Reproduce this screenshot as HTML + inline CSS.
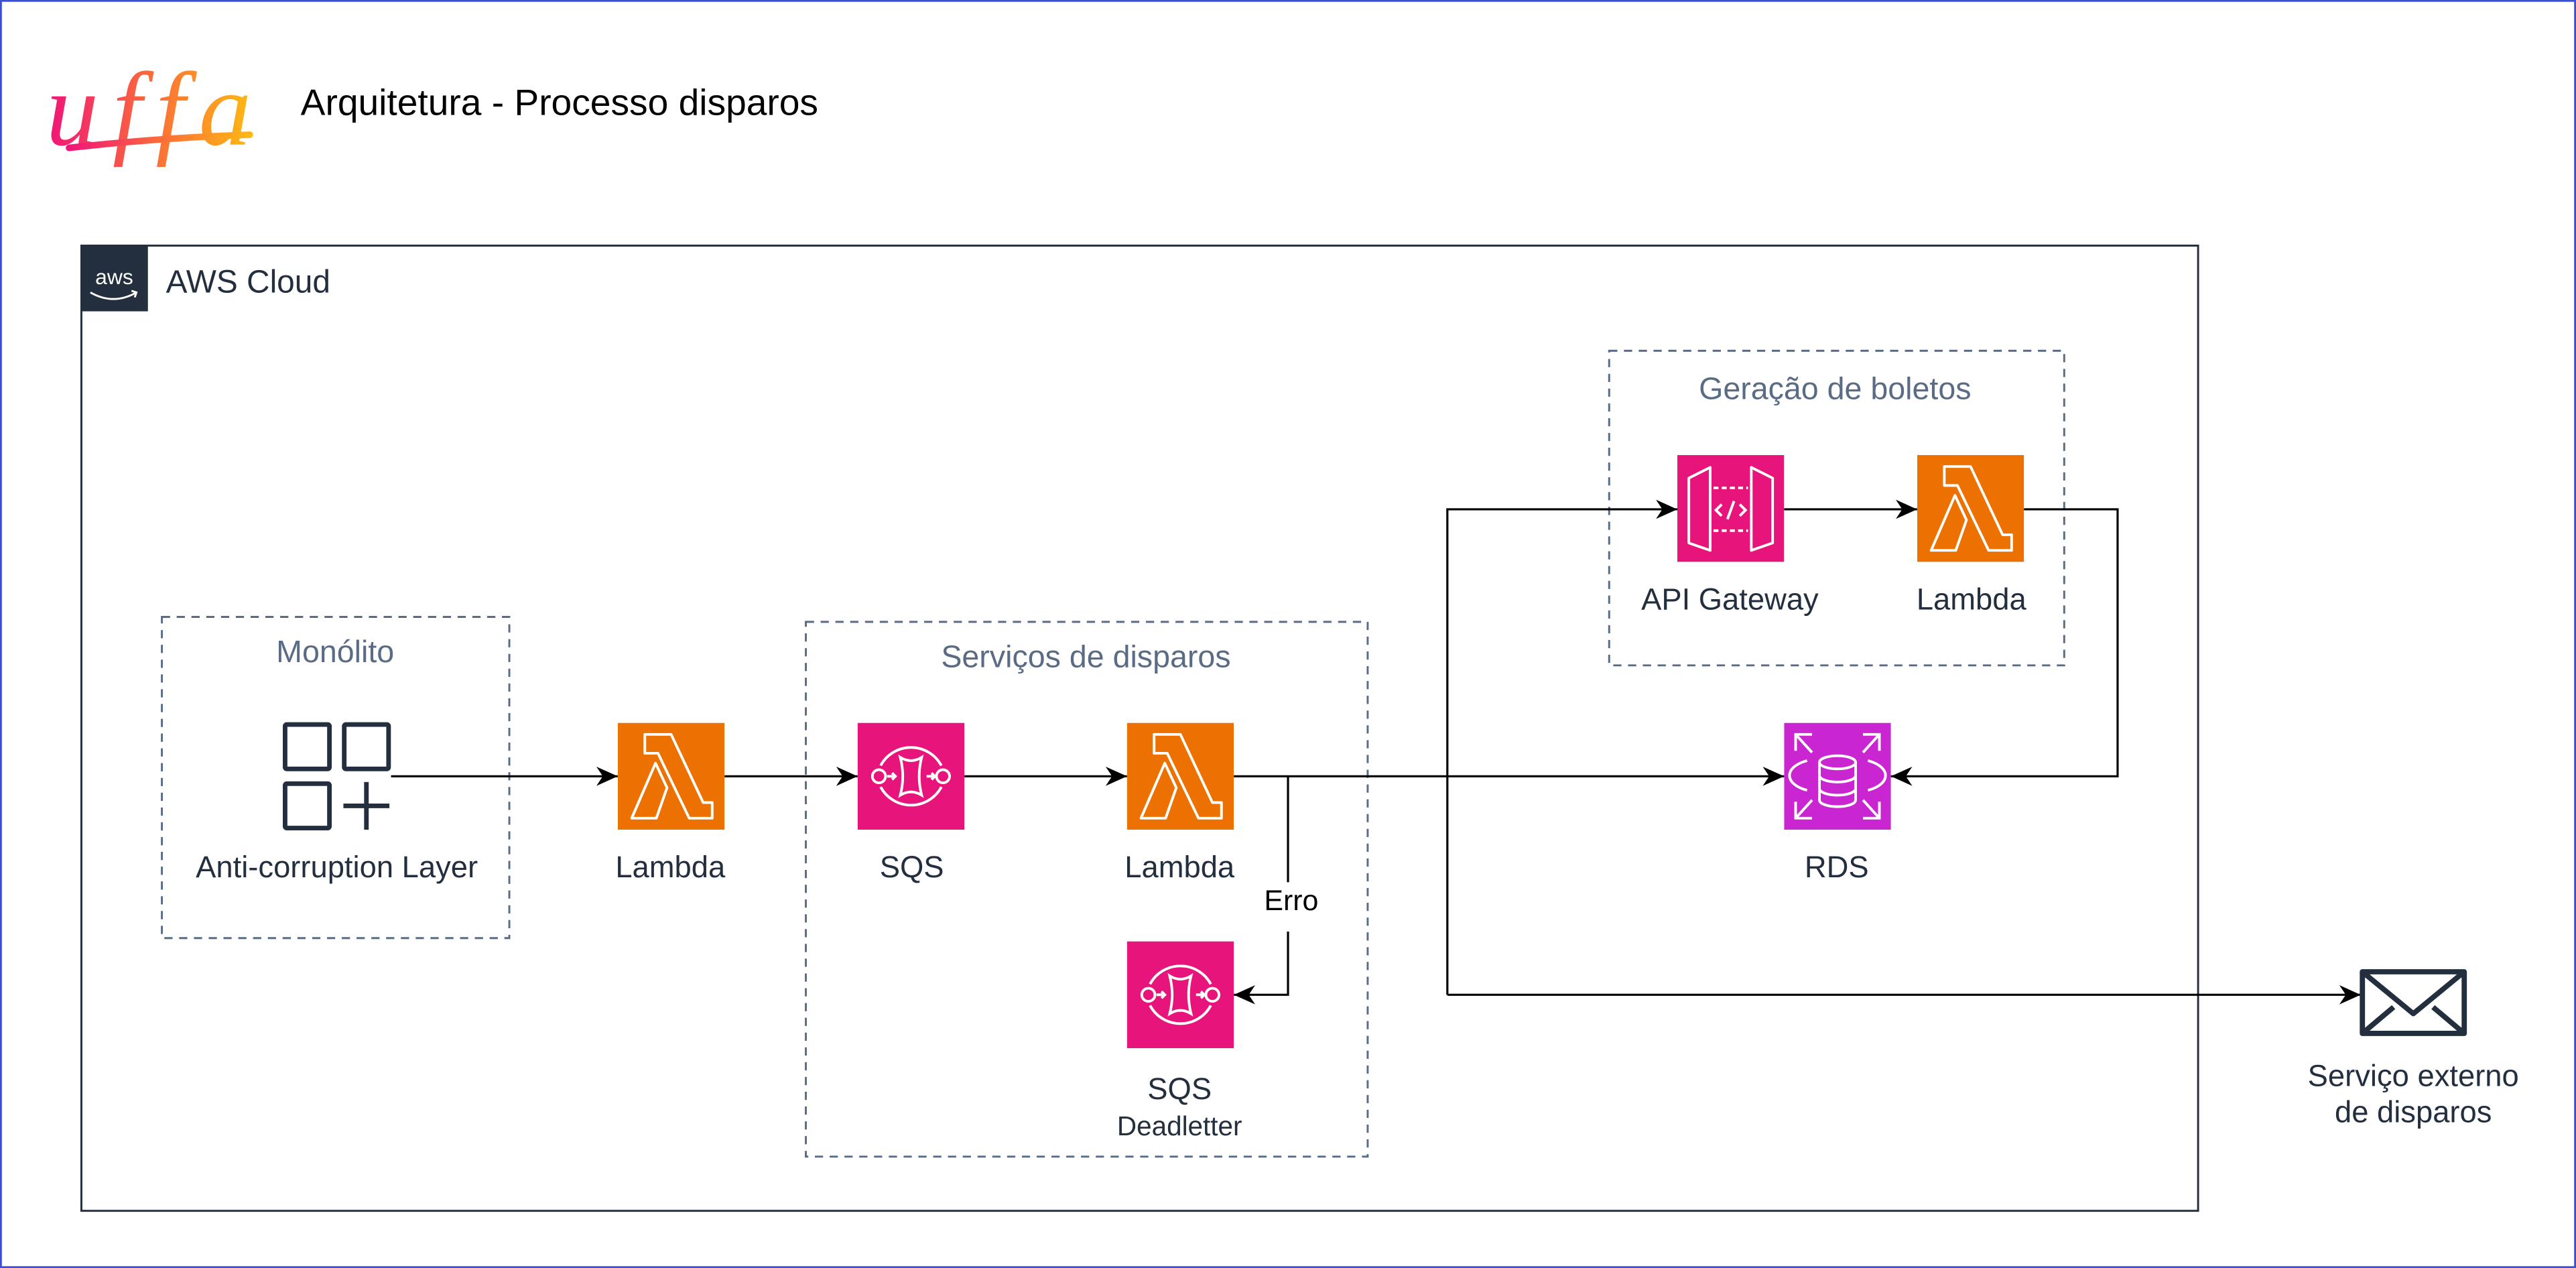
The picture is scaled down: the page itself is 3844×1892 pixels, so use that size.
<!DOCTYPE html>
<html><head><meta charset="utf-8"><style>
html,body{margin:0;padding:0;background:#fff;}
svg{display:block;}
text{font-family:"Liberation Sans",Arial,sans-serif;}
</style></head><body>
<svg width="3844" height="1892" viewBox="0 0 1568 771.8" xmlns="http://www.w3.org/2000/svg">
<defs>
<linearGradient id="lg" x1="0" x2="1" y1="0" y2="0">
<stop offset="0" stop-color="#f0147a"/><stop offset="0.5" stop-color="#fb6a3a"/><stop offset="1" stop-color="#fdb813"/>
</linearGradient>
<marker id="ar" viewBox="0 0 10 10" refX="10" refY="5" markerWidth="13" markerHeight="13" markerUnits="userSpaceOnUse" orient="auto">
<path d="M0,0.5 L10,5 L0,9.5 L3,5 Z" fill="#000"/>
</marker>
<symbol id="lam" viewBox="0 0 65 65">
<rect width="65" height="65" fill="#ed7100"/>
<path d="M16.5,7 H32.5 L52,48.5 H57.5 V58 H43.5 L24.5,18.5 H16.5 Z" fill="none" stroke="#fff" stroke-width="1.6" stroke-linejoin="round"/>
<path d="M23,24.5 L30,39.5 L23.5,58 H8.5 Z" fill="none" stroke="#fff" stroke-width="1.6" stroke-linejoin="round"/>
</symbol>
<symbol id="sqs" viewBox="0 0 65 65">
<rect width="65" height="65" fill="#e7157b"/>
<path d="M14,26 A21,21 0 0 1 51,26 M51,39 A21,21 0 0 1 14,39" fill="none" stroke="#fff" stroke-width="1.6"/>
<circle cx="13" cy="32.5" r="4" fill="none" stroke="#fff" stroke-width="1.6"/>
<circle cx="52" cy="32.5" r="4" fill="none" stroke="#fff" stroke-width="1.6"/>
<path d="M18,32.5 H23 M21,30.5 L23,32.5 L21,34.5 M42,32.5 H47 M45,30.5 L47,32.5 L45,34.5" fill="none" stroke="#fff" stroke-width="1.6"/>
<path d="M26,21 Q32.5,25 39,21 Q36,32.5 39,44 Q32.5,40 26,44 Q29,32.5 26,21 Z" fill="none" stroke="#fff" stroke-width="1.6"/>
</symbol>
<symbol id="apigw" viewBox="0 0 65 65">
<rect width="65" height="65" fill="#e7157b"/>
<path d="M7,14 L20,7.5 V58 L7,53.5 Z M58,14 L45,7.5 V58 L58,53.5 Z" fill="none" stroke="#fff" stroke-width="1.6" stroke-linejoin="round"/>
<path d="M22,20 H43 M22,46 H43" stroke="#fff" stroke-width="1.6" stroke-dasharray="3,2"/>
<path d="M27,30 L23.5,33.5 L27,37 M38,30 L41.5,33.5 L38,37 M34.5,28 L30.5,39" fill="none" stroke="#fff" stroke-width="1.6"/>
</symbol>
<symbol id="rds" viewBox="0 0 65 65">
<rect width="65" height="65" fill="#c925d1"/>
<path d="M7,17 V7 H17 M7,7 L17,18 M58,17 V7 H48 M58,7 L48,18 M7,48 V58 H17 M7,58 L17,47 M58,48 V58 H48 M58,58 L48,47" fill="none" stroke="#fff" stroke-width="1.6"/>
<path d="M14,41 A19,10 0 0 1 14,23 M51,23 A19,10 0 0 1 51,41" fill="none" stroke="#fff" stroke-width="1.6"/>
<ellipse cx="32.5" cy="24" rx="11" ry="4" fill="none" stroke="#fff" stroke-width="1.6"/>
<path d="M21.5,24 V47 A11,4 0 0 0 43.5,47 V24 M21.5,32 A11,4 0 0 0 43.5,32 M21.5,40 A11,4 0 0 0 43.5,40" fill="none" stroke="#fff" stroke-width="1.6"/>
</symbol>
</defs>

<rect x="0.5" y="0.5" width="1567" height="770.8" fill="#fff" stroke="#3b4fd4" stroke-width="1.2"/>

<!-- logo -->
<text x="28" y="88" font-size="64" font-style="italic" fill="url(#lg)" style="font-family:'Liberation Serif',serif" textLength="125">uffa</text>
<path d="M42,90 Q95,84 152,82" fill="none" stroke="url(#lg)" stroke-width="4" stroke-linecap="round"/>
<text x="183" y="70" font-size="22.5" fill="#000">Arquitetura - Processo disparos</text>

<!-- AWS cloud -->
<rect x="49.5" y="149.5" width="1288.5" height="587.5" fill="none" stroke="#232f3e" stroke-width="1.2"/>
<rect x="49" y="149" width="41" height="40.5" fill="#232f3e"/>
<text x="69.5" y="173" font-size="13" fill="#fff" text-anchor="middle">aws</text>
<path d="M55,178 Q69,186 83,178 M80,177 L83,178 L82,181" fill="none" stroke="#fff" stroke-width="1.2"/>
<text x="101" y="178" font-size="19.5" fill="#232f3e">AWS Cloud</text>

<!-- groups -->
<g fill="none" stroke="#5a6b86" stroke-width="1.2" stroke-dasharray="5,4">
<rect x="98.5" y="375.5" width="211.5" height="195.5"/>
<rect x="490.5" y="378.5" width="342" height="325.5"/>
<rect x="979.5" y="213.5" width="277" height="191.5"/>
</g>
<g font-size="19" fill="#5a6b86" text-anchor="middle">
<text x="204" y="403">Monólito</text>
<text x="661" y="406">Serviços de disparos</text>
<text x="1117" y="243">Geração de boletos</text>
</g>

<!-- connectors -->
<g fill="none" stroke="#000" stroke-width="1.3">
<path d="M238,472.5 H376" marker-end="url(#ar)"/>
<path d="M441,472.5 H522" marker-end="url(#ar)"/>
<path d="M587,472.5 H686" marker-end="url(#ar)"/>
<path d="M751,472.5 H1086" marker-end="url(#ar)"/>
<path d="M784,472.5 V537 M784,567 V605.5 H751" marker-end="url(#ar)"/>
<path d="M881,605.5 V310 H1021" marker-end="url(#ar)"/>
<path d="M881,605.5 H1437" marker-end="url(#ar)"/>
<path d="M1086,310 H1167" marker-end="url(#ar)"/>
<path d="M1232,310 H1289 V472.5 H1151" marker-end="url(#ar)"/>
</g>
<text x="786" y="554" font-size="17.5" fill="#000" text-anchor="middle">Erro</text>

<!-- anti-corruption icon -->
<g fill="none" stroke="#232f3e" stroke-width="2.8">
<rect x="173.5" y="441" width="27" height="27" rx="1"/>
<rect x="209.5" y="441" width="27" height="27" rx="1"/>
<rect x="173.5" y="477" width="27" height="27" rx="1"/>
<path d="M223,476 V505 M209,490.5 H237"/>
</g>

<use href="#lam" x="376" y="440" width="65" height="65"/>
<use href="#sqs" x="522" y="440" width="65" height="65"/>
<use href="#lam" x="686" y="440" width="65" height="65"/>
<use href="#sqs" x="686" y="573" width="65" height="65"/>
<use href="#apigw" x="1021" y="277" width="65" height="65"/>
<use href="#lam" x="1167" y="277" width="65" height="65"/>
<use href="#rds" x="1086" y="440" width="65" height="65"/>

<!-- envelope -->
<g fill="none" stroke="#232f3e" stroke-width="3.2" stroke-linejoin="round">
<rect x="1438" y="591.5" width="62" height="37.5"/>
<path d="M1438,591.5 L1469,617 L1500,591.5 M1438,629 L1457,613 M1500,629 L1481,613"/>
</g>

<g font-size="18.5" fill="#232f3e" text-anchor="middle">
<text x="205" y="534">Anti-corruption Layer</text>
<text x="408" y="534">Lambda</text>
<text x="555" y="534">SQS</text>
<text x="718" y="534">Lambda</text>
<text x="718" y="669">SQS</text>
<text x="718" y="691" font-size="16.5">Deadletter</text>
<text x="1053" y="371">API Gateway</text>
<text x="1200" y="371">Lambda</text>
<text x="1118" y="534">RDS</text>
<text x="1469" y="661">Serviço externo</text>
<text x="1469" y="683">de disparos</text>
</g>
</svg>
</body></html>
